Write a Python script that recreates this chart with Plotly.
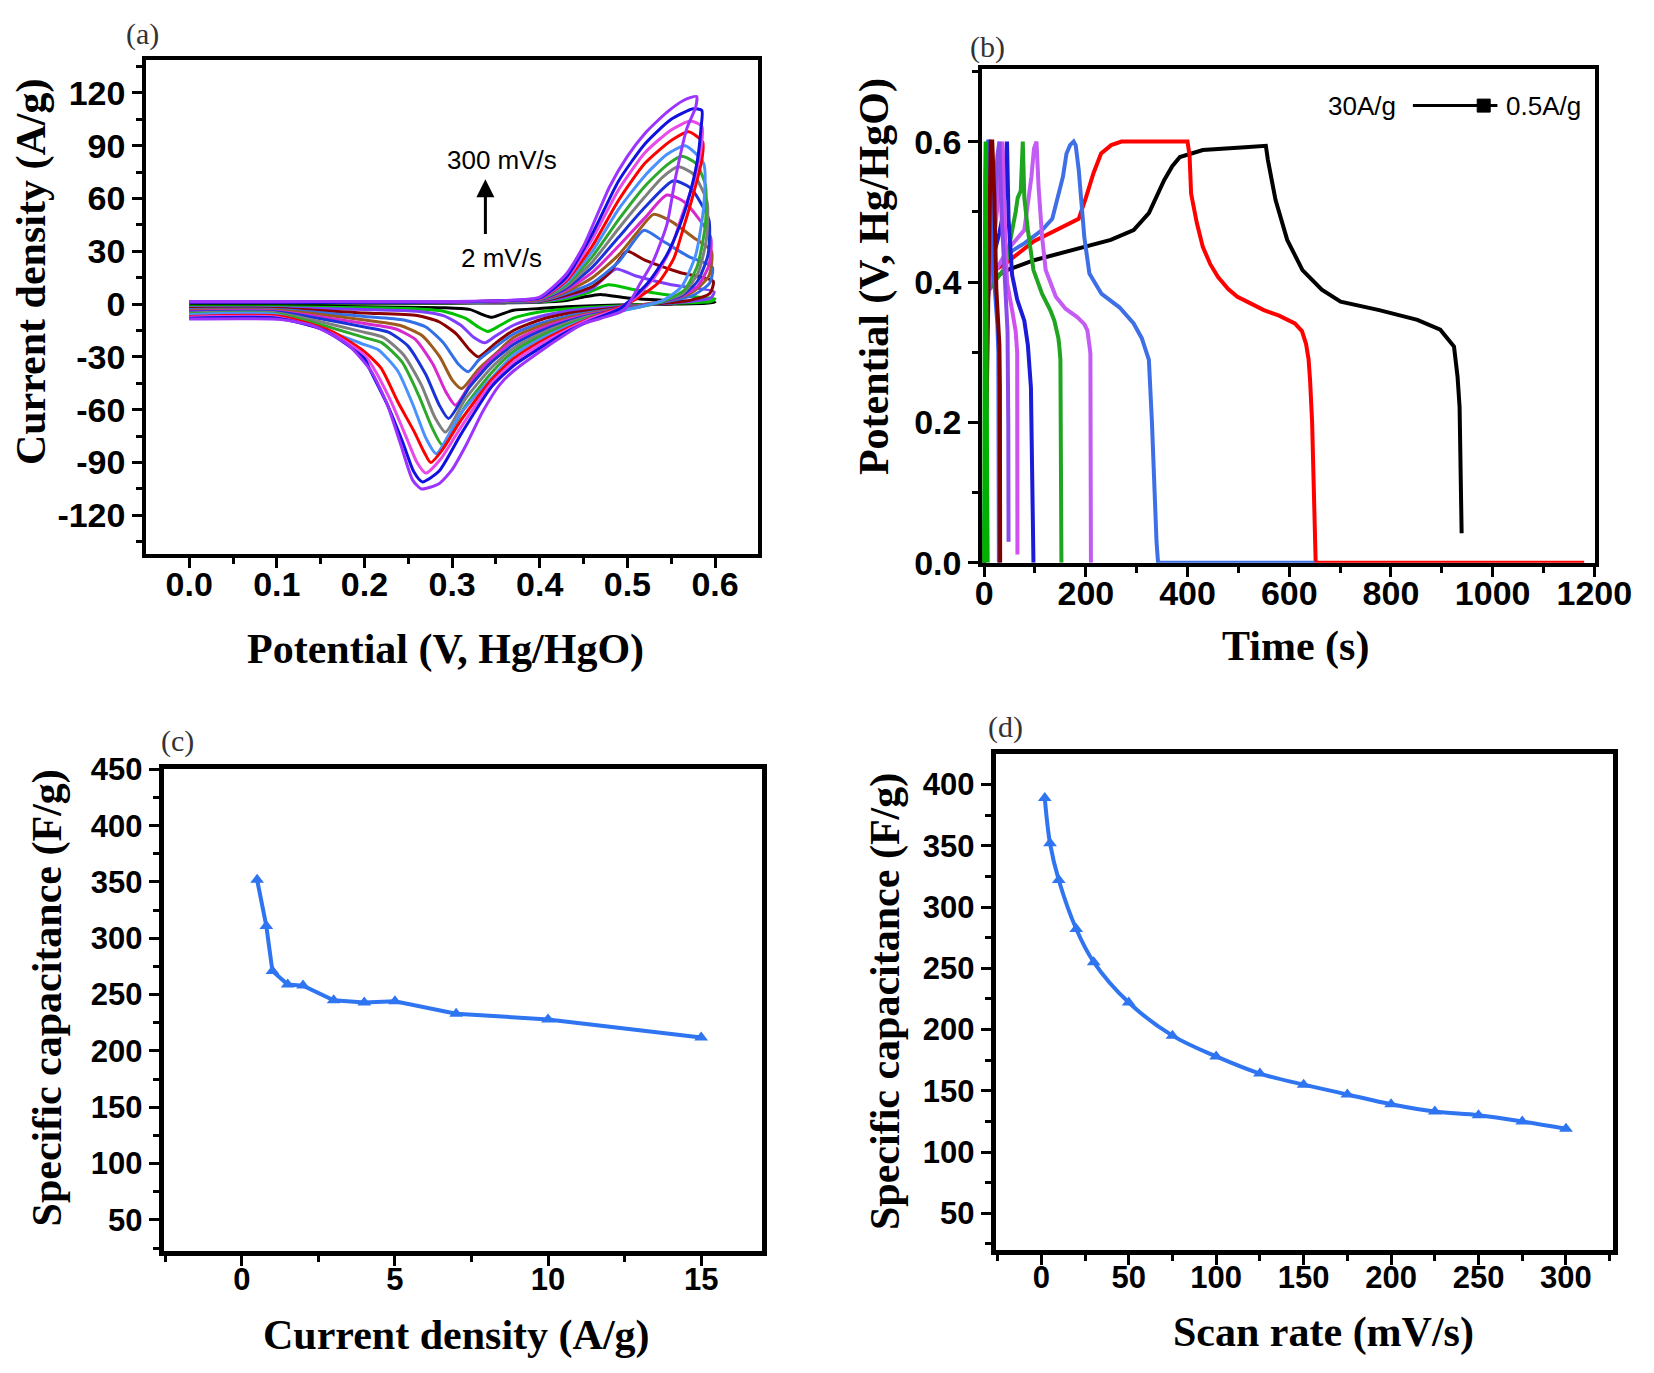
import plotly.graph_objects as go

# ---- (a) CV curves, 2 -> 300 mV/s (inner to outer) ----
cv01_x = [0, 0.1, 0.2, 0.3, 0.36, 0.40, 0.43, 0.45, 0.469, 0.50, 0.55, 0.60, 0.59, 0.55, 0.49, 0.43, 0.40, 0.37, 0.355, 0.345, 0.335, 0.32, 0.29, 0.2, 0.1, 0]
cv01_y = [0.5, 0.5, 0.5, 0.5, 0.7, 1, 2, 4, 5.5, 3.5, 2, 1, 0.5, 0, -0.5, -1.5, -2.5, -3.5, -6, -7.5, -6, -3, -2, -1.5, -1, -1]
cv02_x = [0, 0.1, 0.2, 0.3, 0.36, 0.40, 0.43, 0.455, 0.478, 0.51, 0.55, 0.60, 0.595, 0.55, 0.49, 0.46, 0.43, 0.40, 0.37, 0.355, 0.341, 0.33, 0.315, 0.29, 0.25, 0.2, 0.1, 0]
cv02_y = [0.8, 0.8, 0.8, 0.8, 1, 1.3, 3, 6.5, 11, 8, 5, 3, 1.5, 0.5, -1, -1.8, -2.8, -4.5, -8, -12, -15.5, -13, -8, -4, -2.5, -2, -1.5, -1.5]
cv03_x = [0, 0.1, 0.2, 0.3, 0.36, 0.40, 0.43, 0.46, 0.487, 0.51, 0.55, 0.599, 0.595, 0.56, 0.52, 0.49, 0.46, 0.43, 0.40, 0.37, 0.35, 0.3375, 0.325, 0.31, 0.29, 0.26, 0.2, 0.1, 0]
cv03_y = [1, 1, 1, 1, 1.2, 1.5, 4, 9, 20, 16, 11, 7, 3.5, 1, -0.5, -1.5, -2.5, -4, -7, -12, -18, -22, -19, -12, -6.5, -4, -3, -2, -2]
cv04_x = [0, 0.1, 0.2, 0.3, 0.36, 0.40, 0.43, 0.46, 0.48, 0.4996, 0.52, 0.56, 0.598, 0.594, 0.57, 0.53, 0.49, 0.46, 0.43, 0.40, 0.37, 0.35, 0.33, 0.32, 0.305, 0.285, 0.26, 0.2, 0.1, 0]
cv04_y = [1, 1, 1, 1, 1.3, 1.6, 5, 10, 18, 30, 25, 18, 13, 6, 2, 0, -2, -3.5, -5.5, -9, -15, -22, -30, -26, -17, -10, -6.5, -5, -2.5, -2.5]
cv05_x = [0, 0.1, 0.2, 0.3, 0.36, 0.40, 0.43, 0.46, 0.49, 0.519, 0.54, 0.57, 0.597, 0.594, 0.575, 0.545, 0.51, 0.49, 0.46, 0.43, 0.40, 0.37, 0.345, 0.33, 0.3185, 0.307, 0.29, 0.27, 0.245, 0.2, 0.1, 0]
cv05_y = [1, 1, 1, 1, 1.4, 1.8, 6, 12, 24, 42, 36, 27, 21, 12, 5, 1.5, -1, -2.5, -4.5, -7, -11, -17, -26, -32, -38.4, -34, -22, -13, -9, -7, -3, -3]
cv06_x = [0, 0.1, 0.2, 0.3, 0.36, 0.40, 0.43, 0.46, 0.49, 0.51, 0.53, 0.55, 0.575, 0.596, 0.593, 0.575, 0.55, 0.52, 0.49, 0.46, 0.43, 0.40, 0.37, 0.35, 0.33, 0.311, 0.30, 0.286, 0.266, 0.24, 0.2, 0.1, 0]
cv06_y = [1, 1, 1, 1, 1.5, 2, 7, 15, 28, 40, 51, 47, 38, 30, 16, 7, 2.5, 0, -3, -5, -8, -12.5, -19, -28, -37, -48, -43, -30, -18, -12, -9, -3.5, -3.5]
cv07_x = [0, 0.1, 0.2, 0.3, 0.36, 0.40, 0.43, 0.46, 0.49, 0.52, 0.545, 0.565, 0.595, 0.593, 0.58, 0.56, 0.53, 0.49, 0.46, 0.43, 0.40, 0.37, 0.345, 0.325, 0.3037, 0.293, 0.278, 0.258, 0.235, 0.2, 0.1, 0]
cv07_y = [1, 1, 1, 1, 1.5, 2.2, 8, 18, 33, 49, 62, 58, 38, 22, 10, 4, 0.5, -3.2, -5.5, -9, -14, -21, -31, -42, -57.4, -50, -34, -20, -14, -11, -4, -4]
cv08_x = [0, 0.1, 0.2, 0.3, 0.36, 0.40, 0.43, 0.46, 0.49, 0.52, 0.552, 0.572, 0.593, 0.592, 0.58, 0.562, 0.535, 0.49, 0.46, 0.43, 0.40, 0.37, 0.345, 0.32, 0.296, 0.285, 0.27, 0.25, 0.228, 0.2, 0.1, 0]
cv08_y = [1, 1, 1, 1, 1.6, 2.4, 9, 21, 38, 55, 70, 66, 48, 28, 13, 5, 1, -3.5, -6, -10, -15.5, -23, -33, -47, -65, -57, -40, -24, -16, -13, -4.5, -4.5]
cv09_x = [0, 0.1, 0.2, 0.3, 0.36, 0.40, 0.43, 0.46, 0.49, 0.52, 0.54, 0.558, 0.575, 0.591, 0.59, 0.58, 0.563, 0.535, 0.49, 0.46, 0.43, 0.40, 0.37, 0.345, 0.315, 0.2925, 0.28, 0.265, 0.245, 0.222, 0.2, 0.1, 0]
cv09_y = [1, 1, 1, 1, 1.6, 2.6, 10, 24, 43, 61, 72, 78, 74, 58, 36, 17, 6, 1, -3.8, -6.5, -11, -17, -25, -36, -54, -72.7, -64, -46, -29, -19, -16, -5, -5]
cv10_x = [0, 0.1, 0.2, 0.3, 0.36, 0.40, 0.43, 0.46, 0.49, 0.52, 0.545, 0.562, 0.578, 0.589, 0.589, 0.58, 0.565, 0.54, 0.49, 0.46, 0.43, 0.40, 0.37, 0.345, 0.315, 0.289, 0.277, 0.262, 0.243, 0.22, 0.2, 0.1, 0]
cv10_y = [1, 1, 1, 1.2, 1.7, 2.8, 11, 27, 48, 67, 79, 84, 80, 68, 45, 22, 8, 1.5, -4, -7, -12, -18.5, -27, -39, -58, -80, -70, -52, -33, -22, -19, -5.5, -5.5]
cv11_x = [0, 0.1, 0.2, 0.3, 0.36, 0.40, 0.43, 0.46, 0.49, 0.52, 0.545, 0.566, 0.587, 0.587, 0.578, 0.562, 0.54, 0.49, 0.46, 0.43, 0.40, 0.37, 0.345, 0.31, 0.282, 0.27, 0.256, 0.238, 0.216, 0.2, 0.1, 0]
cv11_y = [1, 1, 1, 1.2, 1.8, 3, 12, 30, 54, 73, 85, 90, 80, 55, 28, 10, 2, -4.2, -7.5, -13, -20, -29, -42, -62, -85, -76, -58, -38, -26, -23, -6, -6]
cv12_x = [0, 0.1, 0.2, 0.3, 0.36, 0.40, 0.43, 0.46, 0.49, 0.52, 0.55, 0.57, 0.586, 0.585, 0.575, 0.565, 0.553, 0.535, 0.51, 0.49, 0.46, 0.43, 0.40, 0.37, 0.345, 0.31, 0.29, 0.2756, 0.268, 0.257, 0.238, 0.219, 0.2, 0.162, 0.105, 0]
cv12_y = [1, 1, 1, 1.2, 1.9, 3, 13, 33, 59, 80, 93, 98, 92, 82, 62, 45, 26, 12, 3, -2, -7.5, -14, -21.5, -31, -43, -66, -82, -90, -84, -72.7, -55.5, -36.4, -27, -15.4, -7, -7]
cv13_x = [0, 0.1, 0.2, 0.3, 0.36, 0.40, 0.43, 0.46, 0.49, 0.52, 0.55, 0.572, 0.585, 0.584, 0.575, 0.562, 0.55, 0.532, 0.512, 0.49, 0.46, 0.43, 0.40, 0.37, 0.345, 0.31, 0.287, 0.27, 0.26, 0.248, 0.23, 0.21, 0.2, 0.16, 0.1, 0]
cv13_y = [1, 1, 1, 1.2, 2, 3.3, 14, 37, 65, 86, 99, 104, 101, 88, 68, 50, 32, 16, 5, -2.5, -8, -15, -23, -33, -45, -70, -88, -96, -90, -76, -55, -36, -29, -16, -7.5, -7.5]
cv14_x = [0, 0.1, 0.2, 0.3, 0.36, 0.40, 0.43, 0.46, 0.49, 0.52, 0.55, 0.575, 0.585, 0.584, 0.58, 0.572, 0.56, 0.545, 0.525, 0.505, 0.49, 0.46, 0.43, 0.40, 0.37, 0.345, 0.31, 0.285, 0.266, 0.256, 0.244, 0.226, 0.206, 0.2, 0.155, 0.1, 0]
cv14_y = [1, 1, 1, 1.2, 2, 3.5, 15, 40, 70, 91, 105, 111, 110, 100, 82, 64, 45, 28, 13, 3, -3, -9, -16, -25, -35, -47, -74, -95, -101, -95, -79, -57, -37, -31, -15, -8, -8]
cv15_x = [0, 0.1, 0.2, 0.3, 0.36, 0.40, 0.43, 0.45, 0.465, 0.48, 0.50, 0.52, 0.545, 0.565, 0.579, 0.578, 0.568, 0.555, 0.545, 0.53, 0.515, 0.496, 0.47, 0.45, 0.43, 0.40, 0.37, 0.354, 0.335, 0.316, 0.30, 0.285, 0.265, 0.255, 0.2415, 0.226, 0.2075, 0.181, 0.143, 0.105, 0]
cv15_y = [1.5, 1.5, 1.5, 1.5, 2, 4, 17, 33, 50, 67, 84, 97, 109, 116, 118, 112, 100, 72, 45, 25, 12, -3.5, -8, -11, -17, -27, -38, -46, -61, -80, -94, -102, -105, -100, -80, -57, -38, -23, -12.6, -8.8, -8.5]

cv_colors = ["#000000", "#00c000", "#7f3fff", "#8b0000", "#3370e8", "#9c5a1c", "#d62ad0", "#1a33d8",
             "#7f7f7f", "#2da82d", "#4a90ff", "#ff0000", "#e84ae8", "#1010e0", "#9d33ff"]

cv_yticks = [-120, -90, -60, -30, 0, 30, 60, 90, 120]
cv_yticktext = ["-120", "-90", "-60", "-30", "0", "30", "60", "90", "120"]

# ---- (b) GCD curves, 0.5 A/g -> 30 A/g ----
gcd01_t = [5, 21, 45, 98, 173, 249, 294, 324, 354, 370, 385, 430, 513, 554, 558, 573, 596, 626, 664, 701, 777, 852, 897, 924, 931, 935, 939]
gcd01_v = [0.40, 0.407, 0.417, 0.431, 0.445, 0.46, 0.474, 0.498, 0.545, 0.565, 0.578, 0.588, 0.592, 0.594, 0.574, 0.517, 0.46, 0.417, 0.389, 0.372, 0.36, 0.346, 0.332, 0.308, 0.265, 0.222, 0.042]
gcd02_t = [5, 41, 98, 150, 186, 200, 215, 230, 250, 270, 400, 404, 407, 418, 430, 445, 460, 480, 498, 520, 550, 580, 611, 625, 633, 638, 641, 645, 648, 650, 652, 1180]
gcd02_v = [0.41, 0.426, 0.458, 0.476, 0.49, 0.52, 0.555, 0.583, 0.595, 0.6, 0.6, 0.58, 0.526, 0.485, 0.45, 0.425, 0.407, 0.39, 0.379, 0.371, 0.36, 0.352, 0.341, 0.33, 0.312, 0.29, 0.26, 0.2, 0.1, 0.03, 0.0, 0.0]
gcd03_t = [4, 45, 79, 114, 134, 148, 155, 162, 169, 176, 180, 186, 197, 207, 231, 266, 294, 310, 318, 324, 330, 336, 339, 342, 650]
gcd03_v = [0.40, 0.44, 0.455, 0.474, 0.49, 0.53, 0.55, 0.583, 0.595, 0.6, 0.595, 0.56, 0.464, 0.412, 0.383, 0.364, 0.341, 0.32, 0.3, 0.289, 0.2, 0.076, 0.03, 0.0, 0.0]
gcd04_t = [3, 45, 79, 88, 93, 98, 103, 107, 114, 121, 141, 160, 183, 197, 203, 207, 209, 210]
gcd04_v = [0.39, 0.445, 0.474, 0.52, 0.55, 0.59, 0.6, 0.536, 0.464, 0.417, 0.379, 0.362, 0.35, 0.34, 0.331, 0.31, 0.298, 0.0]
gcd05_t = [3, 20, 41, 55, 62, 66, 72, 76, 79, 86, 97, 114, 130, 138, 146, 148, 150, 152]
gcd05_v = [0.38, 0.40, 0.42, 0.47, 0.5, 0.52, 0.53, 0.6, 0.52, 0.474, 0.417, 0.383, 0.36, 0.345, 0.32, 0.307, 0.29, 0.0]
gcd06_t = [2, 17, 30, 38, 42, 45, 48, 55, 65, 79, 86, 90, 92, 97]
gcd06_v = [0.39, 0.43, 0.47, 0.5, 0.55, 0.6, 0.49, 0.41, 0.375, 0.345, 0.31, 0.265, 0.25, 0.0]
gcd07_t = [1, 8, 15, 25, 32, 36, 40, 45, 55, 62, 65, 65.5]
gcd07_v = [0.37, 0.38, 0.43, 0.5, 0.57, 0.6, 0.5, 0.4, 0.36, 0.33, 0.3, 0.012]
gcd08_t = [0.5, 6, 12, 20, 26, 30, 34, 40, 44, 46, 47.5, 48]
gcd08_v = [0.0, 0.36, 0.42, 0.5, 0.58, 0.6, 0.5, 0.4, 0.36, 0.33, 0.2, 0.03]
gcd09_t = [0, 4, 6, 8, 10, 14, 18, 22, 26, 28, 29]
gcd09_v = [0.0, 0.35, 0.5, 0.6, 0.6, 0.5, 0.42, 0.38, 0.34, 0.3, 0.0]
gcd10_t = [0, 8, 11, 13, 16, 20, 24, 27, 30, 31, 31.5]
gcd10_v = [0.0, 0.33, 0.45, 0.6, 0.6, 0.52, 0.39, 0.35, 0.31, 0.25, 0.0]
gcd11_t = [0, 0.5, 2, 3, 3.5, 5, 6, 7]
gcd11_v = [0.0, 0.3, 0.55, 0.6, 0.45, 0.25, 0.1, 0.0]

gcd_colors = ["#000000", "#ff0000", "#3f6fe6", "#c25cf2", "#1fa51f", "#1c1cd8",
              "#d050f0", "#8a4be8", "#3060ff", "#800000", "#00b000"]

# ---- (c) capacitance vs current density ----
cd_x = [0.5, 0.8, 1, 1.5, 2, 3, 4, 5, 7, 10, 15]
cd_y = [352, 311, 271, 259, 258, 245, 243, 244, 233, 228, 212]

# ---- (d) capacitance vs scan rate ----
sr_x = [2, 5, 10, 20, 30, 50, 75, 100, 125, 150, 175, 200, 225, 250, 275, 300]
sr_y = [389, 352, 322, 282, 255, 222, 195, 178, 164, 155, 147, 139, 133, 130, 125, 119]

W, H = 1654, 1373


def px(p):
    return p / W


def py(p):
    return 1 - p / H


big_tick = dict(family="Liberation Sans", size=34, color="black", weight="bold")
small_tick = dict(family="Liberation Sans", size=31, color="black", weight="bold")


def axis(dom, rng, lw, font, **kw):
    d = dict(domain=dom, range=rng, showline=True, linecolor="black", linewidth=lw,
             mirror=True, ticks="outside", ticklen=10, tickwidth=3, tickcolor="black",
             showgrid=False, zeroline=False, tickfont=font, automargin=False)
    d.update(kw)
    return d


def minor(step, t0=0):
    return dict(dtick=step, tick0=t0, ticks="outside", ticklen=6, tickwidth=3, tickcolor="black")


fig = go.Figure()

cv_x = [cv01_x, cv02_x, cv03_x, cv04_x, cv05_x, cv06_x, cv07_x, cv08_x,
        cv09_x, cv10_x, cv11_x, cv12_x, cv13_x, cv14_x, cv15_x]
cv_y = [cv01_y, cv02_y, cv03_y, cv04_y, cv05_y, cv06_y, cv07_y, cv08_y,
        cv09_y, cv10_y, cv11_y, cv12_y, cv13_y, cv14_y, cv15_y]
for xs, ys, c in zip(cv_x, cv_y, cv_colors):
    fig.add_trace(go.Scatter(x=xs, y=ys, mode="lines", xaxis="x", yaxis="y",
                             line=dict(color=c, width=3, shape="spline", smoothing=0.6)))

gcd_t = [gcd01_t, gcd02_t, gcd03_t, gcd04_t, gcd05_t, gcd06_t, gcd07_t, gcd08_t, gcd09_t, gcd10_t, gcd11_t]
gcd_v = [gcd01_v, gcd02_v, gcd03_v, gcd04_v, gcd05_v, gcd06_v, gcd07_v, gcd08_v, gcd09_v, gcd10_v, gcd11_v]
for ts, vs, c in zip(gcd_t, gcd_v, gcd_colors):
    fig.add_trace(go.Scatter(x=ts, y=vs, mode="lines", xaxis="x2", yaxis="y2",
                             line=dict(color=c, width=4)))

blue = "#2f74f0"
fig.add_trace(go.Scatter(x=cd_x, y=cd_y, mode="lines+markers", xaxis="x3", yaxis="y3",
                         line=dict(color=blue, width=4),
                         marker=dict(symbol="triangle-up", size=12, color=blue)))
fig.add_trace(go.Scatter(x=sr_x, y=sr_y, mode="lines+markers", xaxis="x4", yaxis="y4",
                         line=dict(color=blue, width=4, shape="spline"),
                         marker=dict(symbol="triangle-up", size=12, color=blue)))

fig.update_layout(
    width=W, height=H, margin=dict(l=0, r=0, t=0, b=0, pad=0, autoexpand=False),
    paper_bgcolor="white", plot_bgcolor="white", showlegend=False,
    xaxis=axis([px(146), px(758.2)], [-0.0493, 0.6493], 3.5, big_tick, anchor="y",
               tick0=0, dtick=0.1, tickformat=".1f", minor=minor(0.05), ticklabelstandoff=-13),
    yaxis=axis([py(554.4), py(60.2)], [-142.2, 138.6], 3.5, big_tick, anchor="x",
               tickvals=cv_yticks, ticktext=cv_yticktext, minor=minor(15)),
    xaxis2=axis([px(982), px(1594.6)], [-4.2, 1200.5], 3.5, big_tick, anchor="y2",
                tick0=0, dtick=200, minor=minor(100), ticklabelstandoff=-12),
    yaxis2=axis([py(562.8), py(68.6)], [0, 0.704], 3.5, big_tick, anchor="x2",
                tick0=0, dtick=0.2, tickformat=".1f", minor=minor(0.1)),
    xaxis3=axis([px(163.7), px(762.4)], [-2.55, 17], 5, small_tick, anchor="y3",
                tick0=0, dtick=5, minor=minor(2.5), ticklabelstandoff=-14),
    yaxis3=axis([py(1251.4), py(768.8)], [22, 450.5], 5, small_tick, anchor="x3",
                tick0=0, dtick=50, minor=minor(25)),
    xaxis4=axis([px(995.8), px(1612.5)], [-26, 326.6], 5, small_tick, anchor="y4",
                tick0=0, dtick=50, minor=minor(25), ticklabelstandoff=-14),
    yaxis4=axis([py(1250), py(754)], [20, 424.9], 5, small_tick, anchor="x4",
                tick0=0, dtick=50, minor=minor(25)),
)

title_font = dict(family="Liberation Serif", size=42, color="black")
titles = [
    ("<b>Potential (V, Hg/HgO)</b>", 445.6, 649.4, 0),
    ("<b>Current density (A/g)</b>", 31.7, 271.4, -90),
    ("<b>Time (s)</b>", 1295.7, 646.3, 0),
    ("<b>Potential (V, Hg/HgO)</b>", 874.4, 276.7, -90),
    ("<b>Current density (A/g)</b>", 456.2, 1335.8, 0),
    ("<b>Specific capacitance (F/g)</b>", 47.5, 997.9, -90),
    ("<b>Scan rate (mV/s)</b>", 1323.2, 1332, 0),
    ("<b>Specific capacitance (F/g)</b>", 884.9, 1001.1, -90),
]
for txt, x, y, ang in titles:
    fig.add_annotation(text=txt, x=px(x), y=py(y), xref="paper", yref="paper",
                       showarrow=False, textangle=ang, font=title_font,
                       xanchor="center", yanchor="middle")

label_font = dict(family="Liberation Serif", size=30, color="#333333")
for txt, x, y in [("(a)", 142.6, 33.8), ("(b)", 987.4, 46.5), ("(c)", 177.4, 741.3), ("(d)", 1005.3, 726.5)]:
    fig.add_annotation(text=txt, x=px(x), y=py(y), xref="paper", yref="paper",
                       showarrow=False, font=label_font, xanchor="center", yanchor="middle")

# scan-rate annotation in (a)
note_font = dict(family="Liberation Sans", size=26, color="black")
fig.add_annotation(text="300 mV/s", x=0.357, y=82, xref="x", yref="y", showarrow=False,
                   font=note_font, xanchor="center", yanchor="middle")
fig.add_annotation(text="2 mV/s", x=0.356, y=26, xref="x", yref="y", showarrow=False,
                   font=note_font, xanchor="center", yanchor="middle")
fig.add_annotation(x=0.338, y=71, ax=0.338, ay=39, xref="x", yref="y", axref="x", ayref="y",
                   showarrow=True, arrowhead=2, arrowsize=1.2, arrowwidth=3, arrowcolor="black", text="")

# legend-like marker in (b)
fig.add_annotation(text="30A/g", x=px(1362.2), y=py(105.6), xref="paper", yref="paper",
                   showarrow=False, font=note_font, xanchor="center", yanchor="middle")
fig.add_annotation(text="0.5A/g", x=px(1543.9), y=py(105.6), xref="paper", yref="paper",
                   showarrow=False, font=note_font, xanchor="center", yanchor="middle")
fig.add_shape(type="line", x0=px(1412.9), x1=px(1497.4), y0=py(105.6), y1=py(105.6),
              xref="paper", yref="paper", line=dict(color="black", width=3))
fig.add_shape(type="rect", x0=px(1477.2), x1=px(1490.2), y0=py(99.1), y1=py(112.1),
              xref="paper", yref="paper", line=dict(color="black", width=1), fillcolor="black")

# drop the default page margin so the figure fills the window exactly
fix_page = ("document.documentElement.style.overflow='hidden';"
            "document.body.style.margin='0';document.body.style.overflow='hidden';")
fig.write_html("out.html", post_script=fix_page, config={"displayModeBar": False})
